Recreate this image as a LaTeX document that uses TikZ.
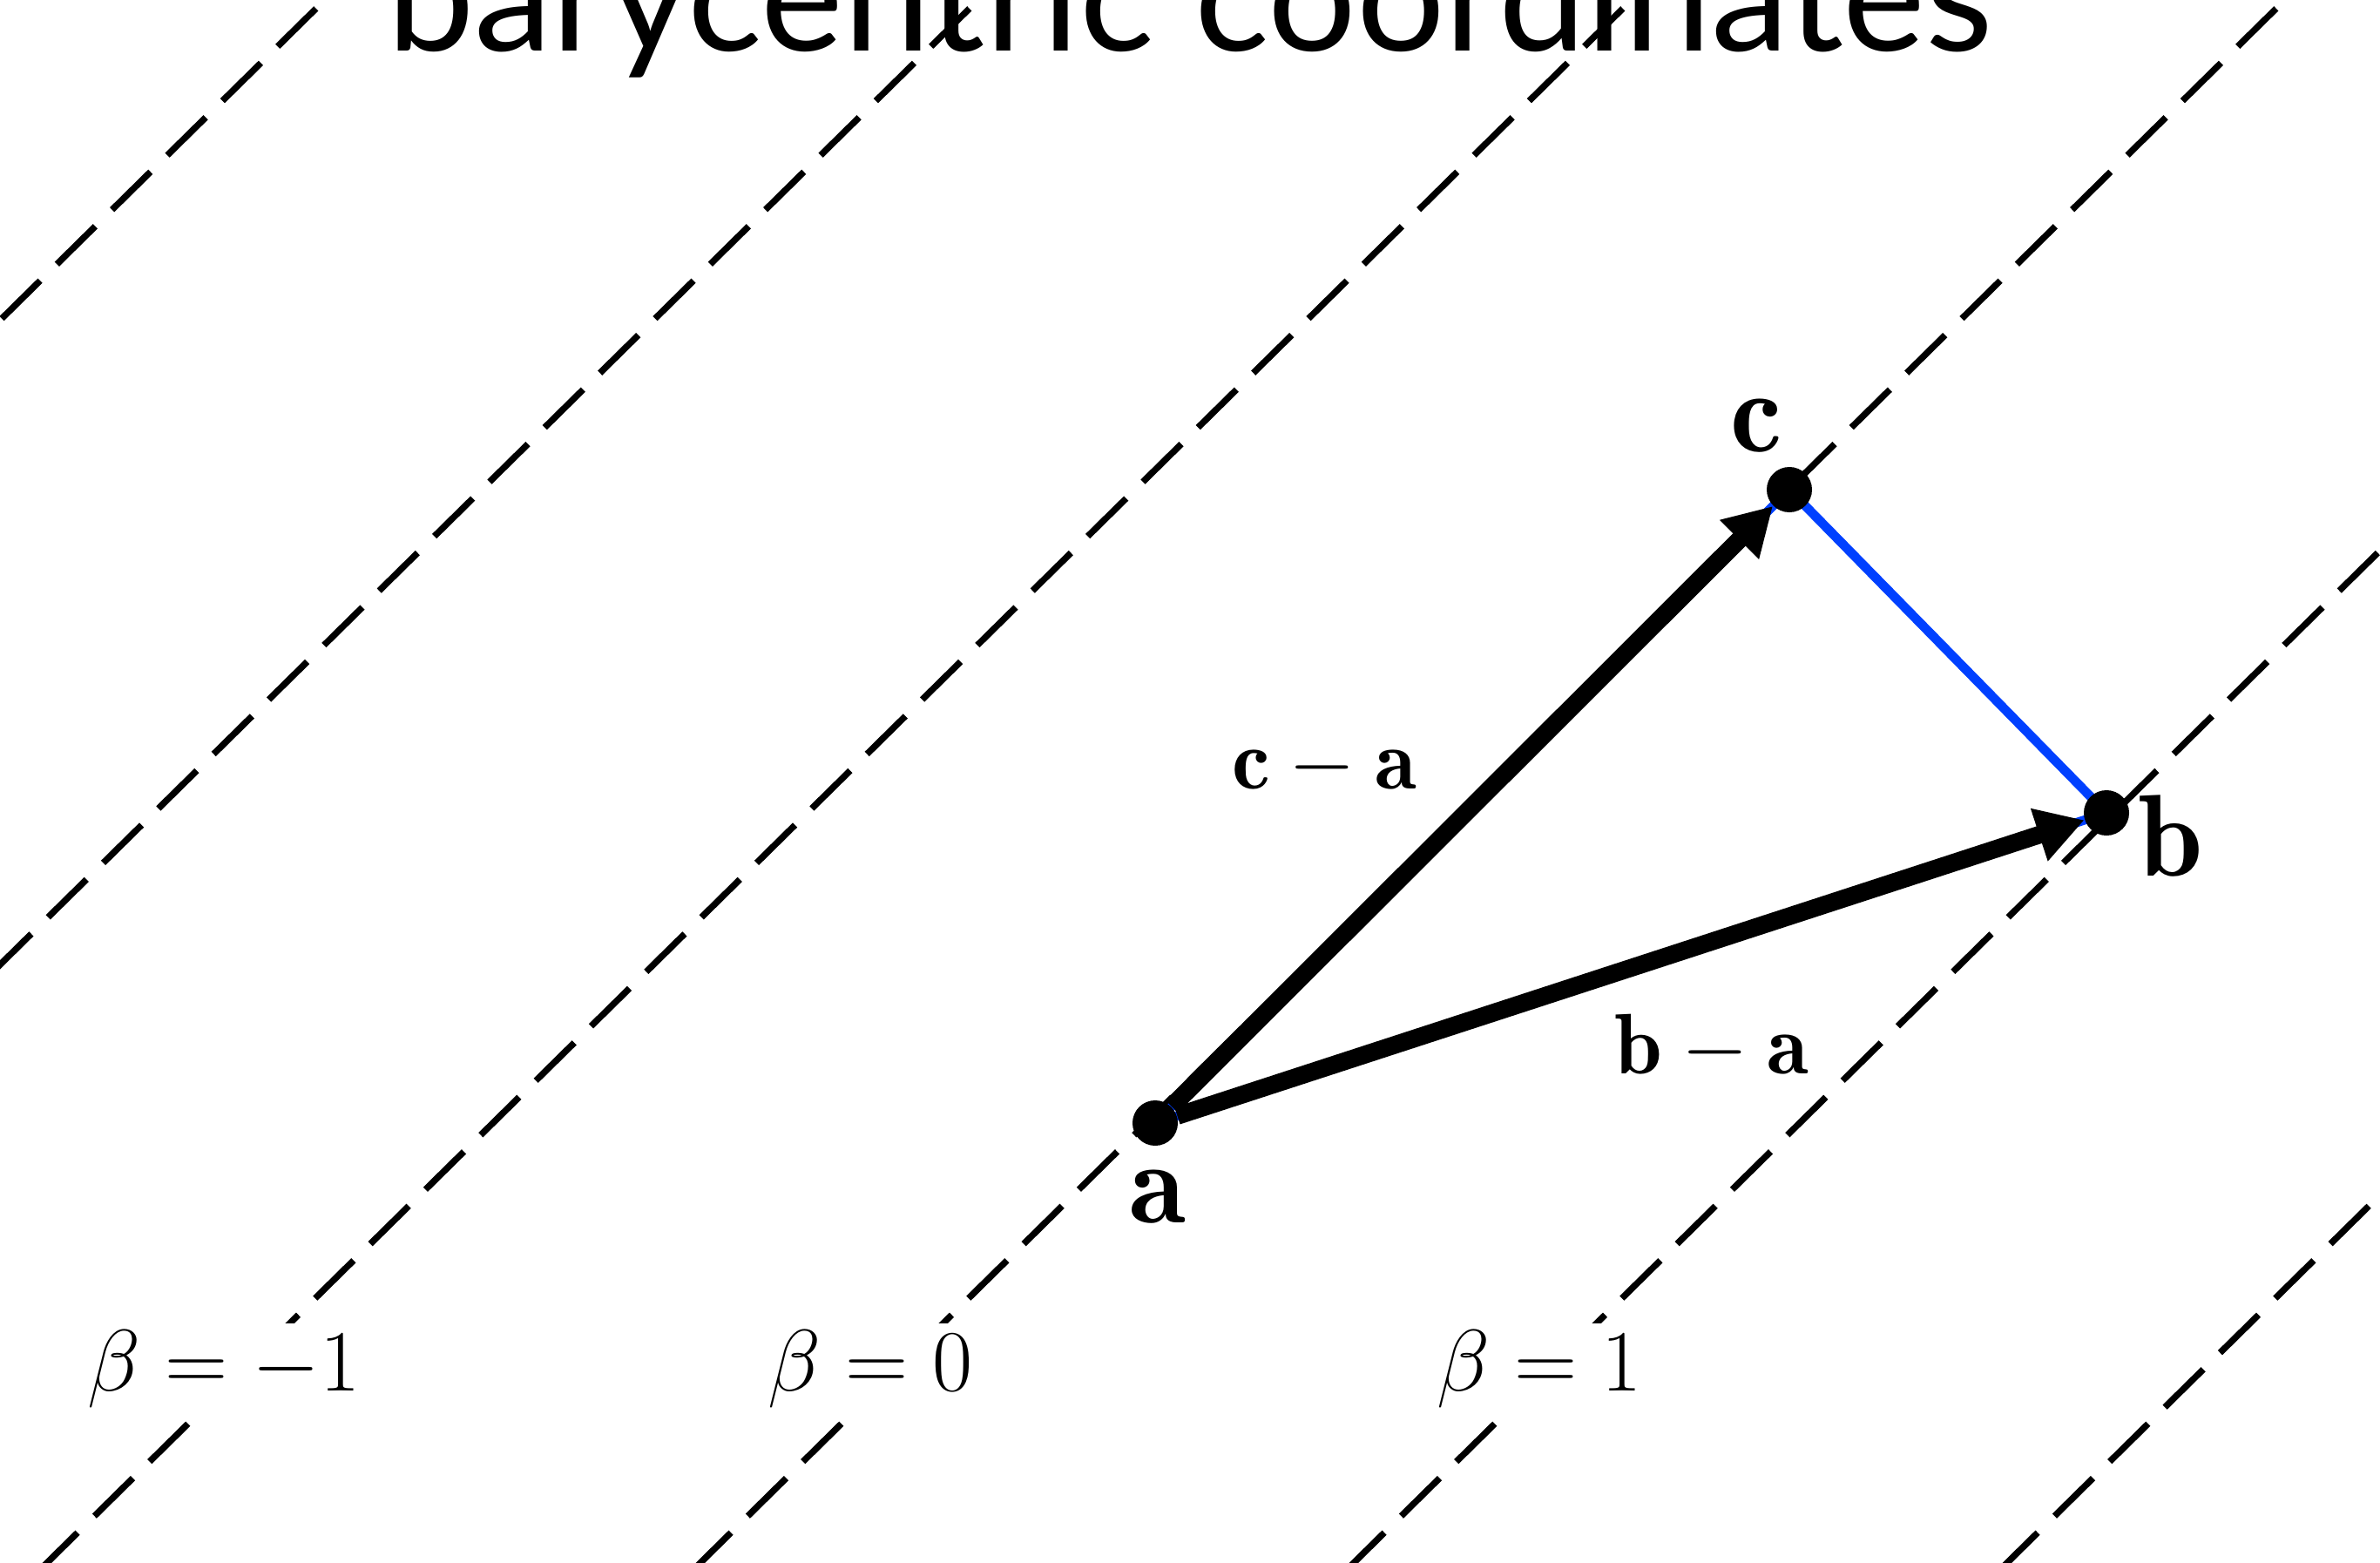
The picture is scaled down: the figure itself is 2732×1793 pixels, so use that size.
\RequirePackage{fix-cm}
\documentclass[tikz,border=0pt]{standalone}
\usepackage{fontspec}
\usepackage{xcolor}
\usetikzlibrary{arrows.meta, positioning, calc, backgrounds}
\newfontfamily\titlefont{Lato}
\definecolor{edgeblue}{RGB}{0,64,255}

\begin{document}
\begin{tikzpicture}[x=0.01cm, y=-0.01cm,
    vertex/.style={circle, fill=black, inner sep=0pt, minimum size=0.52cm},
    ptlabel/.style={anchor=base, inner sep=0pt, font=\fontsize{38}{40}\selectfont},
    veclabel/.style={anchor=base, inner sep=0pt, font=\fontsize{28}{30}\selectfont},
    betalabel/.style={anchor=base, fill=white, inner sep=2pt, font=\fontsize{28.5}{30}\selectfont},
    betaline/.style={line width=2.1pt, dash pattern=on 17.6pt off 7.7pt},
    vecarrow/.style={line width=5.8pt, -{Triangle[length=15.5pt, width=17pt]}},
    sideline/.style={line width=3pt, edgeblue}]
    \useasboundingbox (0,0) rectangle (2732,1793);
    \clip (0,0) rectangle (2732,1793);

    % title, cut off by the frame
    \node (title) [anchor=base, inner sep=0pt, font=\titlefont\fontsize{51}{53}\selectfont] at (1366,58) {barycentric coordinates};

    \node (a) [vertex] at (1326,1289) {};
    \node (b) [vertex] at (2418,933) {};
    \node (c) [vertex] at (2054,562) {};

    \begin{scope}[on background layer]
        % lines of constant beta
        \foreach \k in {-3,...,2}
            \draw [betaline] ({605+750*\k},1990) -- ++(2400,-2367);
        \draw [sideline] (a.center) -- (b.center) -- (c.center) -- cycle;
    \end{scope}

    \draw [vecarrow] (a) -- (c);
    \draw [vecarrow] (a) -- (b);

    \node (alabel) [ptlabel] at ([shift={(3,114)}]a.center) {$\mathbf{a}$};
    \node (blabel) [ptlabel] at ([shift={(74,72)}]b.center) {$\mathbf{b}$};
    \node (clabel) [ptlabel] at ([shift={(-38,-44)}]c.center) {$\mathbf{c}$};

    \node (ca) [veclabel] at (1520,905) {$\mathbf{c}-\mathbf{a}$};
    \node (ba) [veclabel] at (1965,1232) {$\mathbf{b}-\mathbf{a}$};

    \node (bm1) [betalabel] at (257,1596) {$\beta=-1$};
    \node (b0) [betalabel] at (999,1596) {$\beta=0$};
    \node (b1) [betalabel] at (1767,1596) {$\beta=1$};
\end{tikzpicture}
\end{document}
